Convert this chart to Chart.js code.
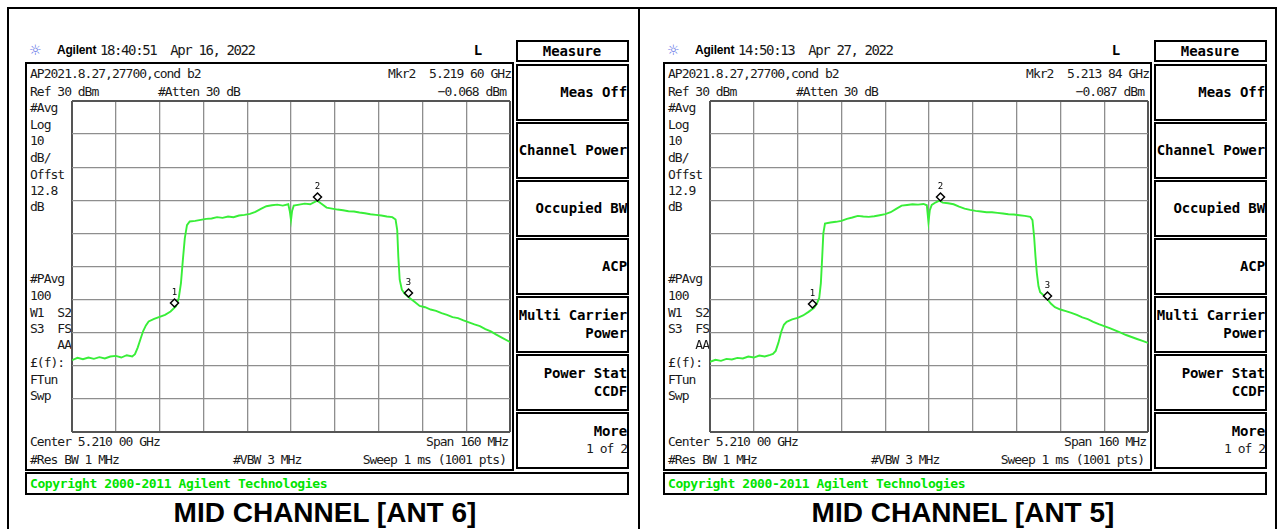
<!DOCTYPE html>
<html>
<head>
<meta charset="utf-8">
<script src="https://cdn.jsdelivr.net/npm/chart.js@4.4.0/dist/chart.umd.min.js"></script>
<style>
html, body { margin: 0; padding: 0; background: #fff; }
#page { position: relative; width: 1278px; height: 529px; overflow: hidden; background: #fff; }
.abs { position: absolute; white-space: pre; line-height: 16px; }
.scr { font-family: "DejaVu Sans Mono", monospace; font-size: 13px; letter-spacing: -1px; color: #1a1a1a; }
.hdr { font-family: "DejaVu Sans Mono", monospace; font-size: 14px; letter-spacing: -1.4px; color: #1a1a1a; }
.brand { font-family: "Liberation Sans", Arial, sans-serif; font-weight: bold; font-size: 12px; letter-spacing: -0.2px; color: #000; }
.key { font-family: "DejaVu Sans Mono", monospace; font-weight: bold; font-size: 14px; letter-spacing: -0.1px; color: #000; }
.copy { font-family: "DejaVu Sans Mono", monospace; font-weight: bold; font-size: 13px; letter-spacing: -0.4px; color: #00e400; }
.title { font-family: "Liberation Sans", Arial, sans-serif; font-weight: bold; font-size: 28px; line-height: 30px; color: #000; }
.icon { font-family: "DejaVu Sans", sans-serif; font-size: 14px; color: #5a6ee6; }
.box { position: absolute; border: 2px solid #000; box-sizing: border-box; }
.line { position: absolute; background: #000; }
canvas { position: absolute; }
</style>
</head>
<body>
<div id="page"></div>
<script>
// sweep settings (MHz / dBm)
var startFreq = 5130;
var stopFreq = 5290;
var refLevel = 30;
var bottomLevel = -70;

// trace ANT 6 (left screen)
var freqAnt6 = [5130, 5132, 5134, 5136, 5138, 5140, 5142, 5144, 5146, 5148, 5150, 5152, 5153, 5154, 5155, 5156, 5157, 5158, 5160, 5162,
    5164, 5166, 5168, 5169, 5169.8, 5170.5, 5171.2, 5172, 5173, 5175, 5177, 5179, 5181, 5183, 5185, 5187, 5189, 5191, 5193, 5195,
    5197, 5199, 5201, 5203, 5205, 5207, 5209, 5209.6, 5210, 5210.4, 5211, 5213, 5215, 5217, 5219.6, 5221, 5223, 5225, 5227, 5229,
    5231, 5233, 5235, 5237, 5239, 5241, 5243, 5245, 5247, 5248.2, 5248.8, 5249.2, 5249.7, 5250.5, 5251.5, 5253, 5255, 5257, 5259, 5261,
    5263, 5265, 5267, 5269, 5271, 5273, 5275, 5277, 5279, 5281, 5283, 5285, 5287, 5290];
var levelAnt6 = [-48.3, -47.6, -48.0, -47.5, -47.9, -47.4, -47.8, -47.2, -47.0, -47.5, -46.8, -47.2, -46.5, -44.5, -42.0, -39.5, -37.8, -36.6, -35.8, -35.2,
    -34.6, -33.6, -32.0, -29.5, -25.0, -18.0, -11.5, -7.5, -6.4, -6.2, -5.9, -5.6, -5.5, -5.1, -5.3, -4.9, -5.1, -4.6, -4.4, -4.1,
    -3.5, -2.6, -1.8, -1.5, -1.3, -1.6, -1.2, -3.5, -6.0, -3.2, -1.6, -1.3, -1.0, -1.2, -0.1, -1.0, -2.2, -2.5, -2.8, -3.0,
    -3.3, -3.4, -3.7, -3.9, -4.2, -4.4, -4.6, -4.9, -5.1, -5.8, -9.0, -17.0, -24.0, -27.0, -28.2, -29.3, -30.6, -31.9, -32.3, -33.0,
    -33.4, -34.1, -34.6, -35.3, -35.6, -36.3, -36.9, -37.5, -38.0, -38.9, -39.6, -40.6, -41.5, -42.8];
var markerFreqAnt6 = [5167.3, 5219.6, 5252.7];
var markerLevelAnt6 = [-32.2, -0.068, -29.2];

// trace ANT 5 (right screen)
var freqAnt5 = [5130, 5132, 5134, 5136, 5138, 5140, 5142, 5144, 5146, 5148, 5150, 5152, 5153, 5154, 5155, 5156, 5157, 5158, 5160, 5162,
    5164, 5166, 5168, 5169, 5169.9, 5170.5, 5171, 5171.4, 5172, 5174, 5176, 5178, 5180, 5182, 5184, 5186, 5188, 5190, 5192, 5194,
    5196, 5198, 5200, 5202, 5204, 5206, 5208, 5209.2, 5209.8, 5210.3, 5211, 5212.5, 5213.84, 5215, 5217, 5219, 5221, 5223, 5225, 5227,
    5229, 5231, 5233, 5235, 5237, 5239, 5241, 5243, 5245, 5247, 5247.8, 5248.4, 5248.9, 5249.4, 5250, 5250.6, 5252, 5253, 5254.5, 5256,
    5258, 5260, 5262, 5264, 5266, 5268, 5270, 5272, 5274, 5276, 5278, 5280, 5282, 5284, 5286, 5288, 5290];
var levelAnt5 = [-48.8, -48.2, -48.5, -47.9, -48.1, -47.6, -47.8, -47.2, -47.5, -46.9, -47.2, -46.7, -46.4, -45.5, -43.0, -39.8, -37.6, -36.7, -36.0, -35.5,
    -34.8, -33.7, -32.5, -31.3, -29.5, -25.0, -17.0, -10.0, -7.0, -6.7, -6.5, -6.2, -5.6, -5.2, -4.7, -4.9, -5.0, -4.8, -4.5, -4.2,
    -3.6, -2.6, -1.6, -1.4, -1.2, -1.3, -1.1, -1.5, -6.6, -3.0, -1.4, -0.6, -0.1, -0.7, -0.9, -1.2, -1.9, -2.5, -2.9, -3.2,
    -3.4, -3.6, -3.6, -3.8, -4.0, -4.2, -4.3, -4.5, -4.7, -5.0, -6.0, -11.0, -17.0, -22.0, -26.0, -27.8, -28.8, -29.6, -31.2, -32.3,
    -33.0, -33.5, -34.0, -34.6, -35.4, -35.9, -36.7, -37.4, -38.0, -38.6, -39.3, -40.0, -40.7, -41.3, -41.9, -42.5, -43.1];
var markerFreqAnt5 = [5167.3, 5213.84, 5253.0];
var markerLevelAnt5 = [-32.5, -0.087, -30.2];

var softKeys = [["Meas Off"], ["Channel Power"], ["Occupied BW"], ["ACP"], ["Multi Carrier", "Power"], ["Power Stat", "CCDF"], ["More", "1 of 2"]];

var panels = [
    { ox: 0, time: "18:40:51  Apr 16, 2022", mkrFreq: "Mkr2  5.219 60 GHz", mkrLevel: "\u22120.068 dBm", offset: "12.8",
      title: "MID CHANNEL [ANT 6]", freqs: freqAnt6, levels: levelAnt6, mFreqs: markerFreqAnt6, mLevels: markerLevelAnt6 },
    { ox: 638, time: "14:50:13  Apr 27, 2022", mkrFreq: "Mkr2  5.213 84 GHz", mkrLevel: "\u22120.087 dBm", offset: "12.9",
      title: "MID CHANNEL [ANT 5]", freqs: freqAnt5, levels: levelAnt5, mFreqs: markerFreqAnt5, mLevels: markerLevelAnt5 }
];

var page = document.getElementById('page');

function AddText(cls, x, yc, text, align) {
    var d = document.createElement('div');
    d.className = 'abs ' + cls;
    d.textContent = text;
    d.style.top = (yc - 8) + 'px';
    if (align === 'right') {
        d.style.left = (x - 400) + 'px';
        d.style.width = '400px';
        d.style.textAlign = 'right';
    } else if (align === 'center') {
        d.style.left = (x - 200) + 'px';
        d.style.width = '400px';
        d.style.textAlign = 'center';
    } else {
        d.style.left = x + 'px';
    }
    page.appendChild(d);
    return d;
}

function AddBox(x1, y1, x2, y2) {
    var d = document.createElement('div');
    d.className = 'box';
    d.style.left = x1 + 'px';
    d.style.top = y1 + 'px';
    d.style.width = (x2 - x1) + 'px';
    d.style.height = (y2 - y1) + 'px';
    page.appendChild(d);
}

function AddLine(x, y, w, h) {
    var d = document.createElement('div');
    d.className = 'line';
    d.style.left = x + 'px';
    d.style.top = y + 'px';
    d.style.width = w + 'px';
    d.style.height = h + 'px';
    page.appendChild(d);
}

var markerPlugin = {
    id: 'markers',
    afterDatasetsDraw: function (chart, args, opts) {
        var c = chart.ctx;
        var xs = chart.scales.x, ys = chart.scales.y;
        opts.freqs.forEach(function (f, i) {
            var px = Math.round(xs.getPixelForValue(f)) + 0.5;
            var py = Math.round(ys.getPixelForValue(opts.levels[i]));
            c.save();
            c.beginPath();
            c.moveTo(px, py);
            c.lineTo(px + 4, py - 4);
            c.lineTo(px, py - 8);
            c.lineTo(px - 4, py - 4);
            c.closePath();
            c.fillStyle = '#fff';
            c.fill();
            c.lineWidth = 1.5;
            c.strokeStyle = '#000';
            c.stroke();
            c.font = '9px "DejaVu Sans Mono"';
            c.fillStyle = '#000';
            c.textAlign = 'center';
            c.textBaseline = 'middle';
            c.fillText(String(i + 1), px, py - 14);
            c.restore();
        });
    }
};

function GridColor(ctx) {
    return (ctx.index === 0 || ctx.index === 10) ? '#555' : '#8e8e8e';
}

function GridWidth(ctx) {
    return (ctx.index === 0 || ctx.index === 10) ? 2 : 1.3;
}

function DrawTrace(p) {
    var cv = document.createElement('canvas');
    cv.width = 442;
    cv.height = 335;
    cv.style.left = (p.ox + 70) + 'px';
    cv.style.top = '99px';
    page.appendChild(cv);

    var points = p.freqs.map(function (f, i) { return { x: f, y: p.levels[i] }; });

    new Chart(cv.getContext('2d'), {
        type: 'line',
        data: {
            datasets: [
                {
                    data: points,
                    borderColor: '#38ee38',
                    borderWidth: 1.9,
                    pointRadius: 0,
                    tension: 0,
                    fill: false
                }
            ]
        },
        options: {
            responsive: false,
            animation: false,
            events: [],
            layout: { padding: 2 },
            plugins: {
                legend: { display: false },
                tooltip: { enabled: false },
                markers: { freqs: p.mFreqs, levels: p.mLevels }
            },
            scales: {
                x: {
                    type: 'linear',
                    min: startFreq,
                    max: stopFreq,
                    ticks: { display: false },
                    afterBuildTicks: function (axis) {
                        var t = [];
                        for (var i = 0; i <= 10; i++) t.push({ value: startFreq + i * (stopFreq - startFreq) / 10 });
                        axis.ticks = t;
                    },
                    grid: { color: GridColor, lineWidth: GridWidth, drawTicks: false },
                    border: { display: false }
                },
                y: {
                    min: bottomLevel,
                    max: refLevel,
                    ticks: { display: false, stepSize: 10 },
                    grid: { color: GridColor, lineWidth: GridWidth, drawTicks: false },
                    border: { display: false }
                }
            }
        },
        plugins: [markerPlugin]
    });
}

function BuildPanel(p) {
    var o = p.ox;

    // header
    AddText('icon', o + 29, 50, '\u263C');
    AddText('brand', o + 57, 50, 'Agilent');
    AddText('hdr', o + 100, 50, p.time);
    AddText('key', o + 478, 50, 'L', 'center');

    // screen frame
    AddBox(o + 25, 62, o + 514, 471);
    AddText('scr', o + 30, 74, 'AP2021.8.27,27700,cond b2');
    AddText('scr', o + 30, 92, 'Ref 30 dBm');
    AddText('scr', o + 158, 92, '#Atten 30 dB');
    AddText('scr', o + 511, 74, p.mkrFreq, 'right');
    AddText('scr', o + 506, 92, p.mkrLevel, 'right');

    var leftLabels = [['#Avg', 108], ['Log', 125], ['10', 141], ['dB/', 158], ['Offst', 175], [p.offset, 191], ['dB', 207],
        ['#PAvg', 279], ['100', 296], ['W1  S2', 313], ['S3  FS', 329], ['\u00A3(f):', 363], ['FTun', 380], ['Swp', 396]];
    leftLabels.forEach(function (l) { AddText('scr', o + 30, l[1], l[0]); });
    AddText('scr', o + 71, 345, 'AA', 'right');

    AddText('scr', o + 30, 442, 'Center 5.210 00 GHz');
    AddText('scr', o + 30, 460, '#Res BW 1 MHz');
    AddText('scr', o + 233, 460, '#VBW 3 MHz');
    AddText('scr', o + 508, 442, 'Span 160 MHz', 'right');
    AddText('scr', o + 506, 460, 'Sweep 1 ms (1001 pts)', 'right');

    // soft keys
    AddBox(o + 516, 40, o + 629, 62);
    AddText('key', o + 572, 51, 'Measure', 'center');
    softKeys.forEach(function (k, i) {
        var top = 64 + i * 58;
        AddBox(o + 516, top, o + 629, top + 57);
        if (k.length === 1) {
            AddText('key', o + 627, top + 28, k[0], 'right');
        } else {
            AddText('key', o + 627, top + 19, k[0], 'right');
            AddText(k[0] === 'More' ? 'scr' : 'key', o + 627, top + 37, k[1], 'right');
        }
    });

    // copyright bar
    AddBox(o + 25, 472, o + 629, 495);
    AddText('copy', o + 30, 484, 'Copyright 2000-2011 Agilent Technologies');

    // caption
    AddText('title', o + 325, 498 + 8, p.title, 'center');

    DrawTrace(p);
}

// outer frame
AddLine(7, 7, 1270, 2);
AddLine(7, 7, 2, 522);
AddLine(638, 7, 2, 522);
AddLine(1275, 7, 2, 522);

panels.forEach(BuildPanel);
</script>
</body>
</html>
